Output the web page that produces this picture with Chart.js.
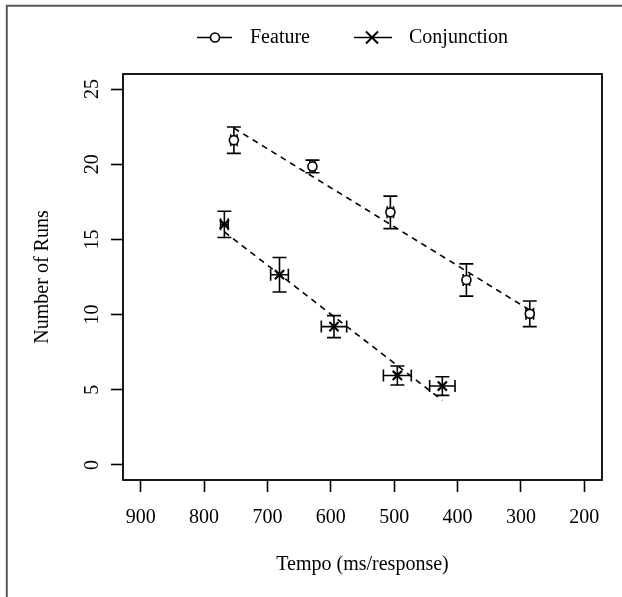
<!DOCTYPE html>
<html>
<head>
<meta charset="utf-8">
<script src="https://cdn.jsdelivr.net/npm/chart.js@4"></script>
<style>
    body { margin: 0; background: #fff; }
    #wrap { position: relative; width: 622px; height: 597px; }
</style>
</head>
<body>
<div id="wrap"><canvas id="runsChart"></canvas></div>
<script>
// Values
const featureTempo = [753, 629, 506, 386, 286];
const featureRuns = [21.6, 19.85, 16.8, 12.3, 10.05];
const featureRunsErr = [0.88, 0.42, 1.08, 1.07, 0.85];
const featureTempoErr = [5, 4, 5, 5, 6];

const conjTempo = [768, 681, 595, 495, 424];
const conjRuns = [16.0, 12.65, 9.2, 5.95, 5.25];
const conjRunsErr = [0.87, 1.15, 0.73, 0.63, 0.62];
const conjTempoErr = [6, 14, 20, 22, 20];

// dashed fit lines, end points
const featureFitTempo = [753, 286];
const featureFitRuns = [22.4, 10.3];
const conjFitTempo = [768, 424];
const conjFitRuns = [15.5, 4.3];

const tempoTicks = [900, 800, 700, 600, 500, 400, 300, 200];
const runTicks = [0, 5, 10, 15, 20, 25];

const FONT = '"Liberation Serif", "Times New Roman", serif';

const toPoints = (xs, ys) => xs.map((x, i) => ({ x: x, y: ys[i] }));

// error bars (x and y) drawn under the markers
const errorBars = {
    id: 'errorBars',
    beforeDatasetsDraw: (chart) => {
        const ctx = chart.ctx;
        const xs = chart.scales.x;
        const ys = chart.scales.y;
        const sets = [
            [featureTempo, featureRuns, featureTempoErr, featureRunsErr],
            [conjTempo, conjRuns, conjTempoErr, conjRunsErr]
        ];
        ctx.save();
        ctx.strokeStyle = '#000';
        ctx.lineWidth = 1.6;
        sets.forEach(([tx, ry, ex, ey]) => {
            tx.forEach((t, i) => {
                const px = xs.getPixelForValue(t);
                const py = ys.getPixelForValue(ry[i]);
                const top = ys.getPixelForValue(ry[i] + ey[i]);
                const bot = ys.getPixelForValue(ry[i] - ey[i]);
                const lft = xs.getPixelForValue(t + ex[i]);
                const rgt = xs.getPixelForValue(t - ex[i]);
                ctx.beginPath();
                ctx.moveTo(px, top); ctx.lineTo(px, bot);
                ctx.moveTo(px - 7, top); ctx.lineTo(px + 7, top);
                ctx.moveTo(px - 7, bot); ctx.lineTo(px + 7, bot);
                ctx.moveTo(lft, py); ctx.lineTo(rgt, py);
                ctx.moveTo(lft, py - 6); ctx.lineTo(lft, py + 6);
                ctx.moveTo(rgt, py - 6); ctx.lineTo(rgt, py + 6);
                ctx.stroke();
            });
        });
        ctx.restore();
    }
};

// plot box, outer frame and the legend above the plot
const frame = {
    id: 'frame',
    beforeDraw: (chart) => {
        const ctx = chart.ctx;
        ctx.save();
        ctx.strokeStyle = '#5a5a5a';
        ctx.lineWidth = 2;
        ctx.beginPath();
        ctx.moveTo(6.8, 597);
        ctx.lineTo(6.8, 5.7);
        ctx.lineTo(622, 5.7);
        ctx.stroke();
        ctx.restore();
    },
    afterDraw: (chart) => {
        const ctx = chart.ctx;
        const a = chart.chartArea;
        ctx.save();
        ctx.strokeStyle = '#000';
        ctx.lineWidth = 1.8;
        ctx.strokeRect(a.left, a.top, a.right - a.left, a.bottom - a.top);

        const ly = 37.5;
        ctx.lineWidth = 1.6;
        ctx.beginPath();
        ctx.moveTo(197, ly); ctx.lineTo(232, ly);
        ctx.moveTo(354, ly); ctx.lineTo(392, ly);
        ctx.stroke();
        ctx.beginPath();
        ctx.arc(215, ly, 4.5, 0, Math.PI * 2);
        ctx.fillStyle = '#fff';
        ctx.fill();
        ctx.stroke();
        ctx.lineWidth = 2;
        ctx.beginPath();
        ctx.moveTo(366, ly - 6); ctx.lineTo(378, ly + 6);
        ctx.moveTo(366, ly + 6); ctx.lineTo(378, ly - 6);
        ctx.stroke();

        ctx.fillStyle = '#000';
        ctx.font = '20px ' + FONT;
        ctx.textBaseline = 'middle';
        ctx.textAlign = 'left';
        ctx.fillText(chart.data.datasets[0].label, 250, ly);
        ctx.fillText(chart.data.datasets[1].label, 409, ly);
        ctx.restore();
    }
};

const ctx = document.getElementById('runsChart').getContext('2d');

new Chart(ctx, {
    type: 'scatter',
    data: {
        datasets: [{
            label: 'Feature',
            data: toPoints(featureTempo, featureRuns),
            pointStyle: 'circle',
            pointRadius: 4.5,
            pointBackgroundColor: '#fff',
            pointBorderColor: '#000',
            pointBorderWidth: 1.6
        }, {
            label: 'Conjunction',
            data: toPoints(conjTempo, conjRuns),
            pointStyle: 'crossRot',
            pointRadius: 6.5,
            pointBorderColor: '#000',
            pointBorderWidth: 2.2
        }, {
            label: 'Feature fit',
            type: 'line',
            data: toPoints(featureFitTempo, featureFitRuns),
            borderColor: '#000',
            borderWidth: 1.6,
            borderDash: [6, 5],
            pointRadius: 0,
            fill: false
        }, {
            label: 'Conjunction fit',
            type: 'line',
            data: toPoints(conjFitTempo, conjFitRuns),
            borderColor: '#000',
            borderWidth: 1.6,
            borderDash: [6, 5],
            pointRadius: 0,
            fill: false
        }]
    },
    options: {
        responsive: true,
        maintainAspectRatio: false,
        animation: false,
        layout: {
            padding: { top: 74, right: 20, left: 0, bottom: 0 }
        },
        plugins: {
            legend: { display: false },
            tooltip: { enabled: false }
        },
        scales: {
            x: {
                type: 'linear',
                reverse: true,
                min: 172,
                max: 928,
                afterBuildTicks: (scale) => {
                    scale.ticks = tempoTicks.map(v => ({ value: v }));
                },
                afterFit: (scale) => { scale.height = 117; },
                border: { display: false },
                grid: {
                    drawOnChartArea: false,
                    drawTicks: true,
                    tickLength: 12,
                    tickColor: '#000',
                    tickWidth: 1.6
                },
                ticks: {
                    color: '#000',
                    font: { family: FONT, size: 20 },
                    padding: 14,
                    maxRotation: 0,
                    autoSkip: false
                },
                title: {
                    display: true,
                    text: 'Tempo (ms/response)',
                    color: '#000',
                    font: { family: FONT, size: 20 },
                    padding: { top: 0, bottom: 20 }
                }
            },
            y: {
                type: 'linear',
                min: -1,
                max: 26,
                afterBuildTicks: (scale) => {
                    scale.ticks = runTicks.map(v => ({ value: v }));
                },
                afterFit: (scale) => { scale.width = 123; },
                border: { display: false },
                grid: {
                    drawOnChartArea: false,
                    drawTicks: true,
                    tickLength: 12,
                    tickColor: '#000',
                    tickWidth: 1.6
                },
                ticks: {
                    color: '#000',
                    font: { family: FONT, size: 20 },
                    padding: 8.5,
                    minRotation: 90,
                    maxRotation: 90,
                    crossAlign: 'center',
                    autoSkip: false
                },
                title: {
                    display: true,
                    text: 'Number of Runs',
                    color: '#000',
                    font: { family: FONT, size: 20 },
                    padding: { top: 30.5, bottom: 0 }
                }
            }
        }
    },
    plugins: [errorBars, frame]
});
</script>
</body>
</html>
